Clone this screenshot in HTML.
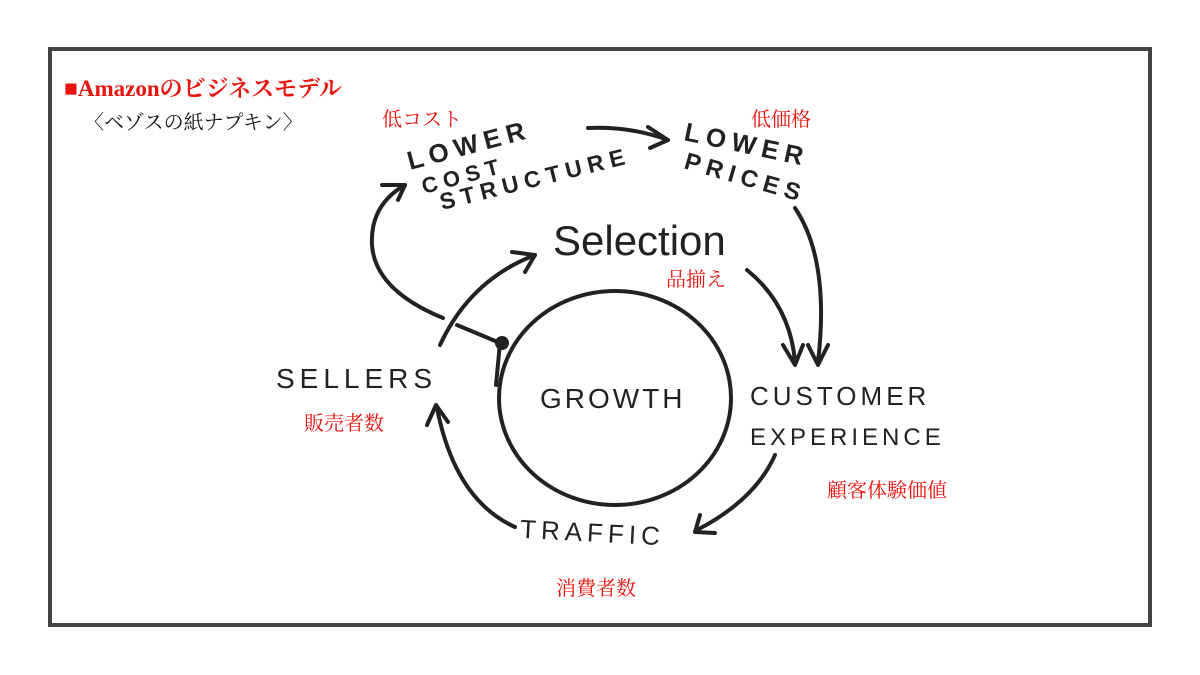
<!DOCTYPE html>
<html><head><meta charset="utf-8"><style>
html,body{margin:0;padding:0;background:#fff;width:1200px;height:675px;overflow:hidden}
.frame{position:absolute;left:48px;top:47px;width:1096px;height:572px;border:4px solid #444;background:#fff}
.r{position:absolute;color:#e8140f;font-family:"Liberation Serif","Noto Serif CJK SC",serif;font-size:20px;white-space:nowrap}
</style></head><body>
<div class="frame"></div>
<div class="r" style="left:64px;top:70px;font-size:23px;font-weight:bold">■Amazonのビジネスモデル</div>
<div class="r" style="left:84px;top:106px;color:#111;font-size:20px">〈ベゾスの紙ナプキン〉</div>
<div class="r" style="left:382px;top:103px">低コスト</div>
<div class="r" style="left:751px;top:103px">低価格</div>
<div class="r" style="left:666px;top:263px">品揃え</div>
<div class="r" style="left:304px;top:407px">販売者数</div>
<div class="r" style="left:827px;top:474px">顧客体験価値</div>
<div class="r" style="left:556px;top:572px">消費者数</div>
<svg width="1200" height="675" style="position:absolute;left:0;top:0" font-family="Liberation Sans, sans-serif" fill="#222">
<g stroke="#222" stroke-width="4" fill="none" stroke-linecap="round" stroke-linejoin="round">
<ellipse cx="615" cy="398" rx="116" ry="107"/>
<path d="M588 128 Q630 126 668 140"/><path d="M648 127 L668 140 L650 148"/>
<path d="M795 208 Q830 260 818 362"/><path d="M808 345 L818 365 L828 345"/>
<path d="M747 270 Q790 305 795 362"/><path d="M783 345 L795 365 L803 345"/>
<path d="M775 455 Q755 500 697 530"/><path d="M700 515 L695 532 L715 533"/>
<path d="M515 527 Q455 500 437 408"/><path d="M427 425 L436 405 L448 422"/>
<path d="M440 345 Q470 280 535 255"/><path d="M512 252 L535 255 L525 272"/>
<path d="M443 318 Q375 290 372 245 Q370 205 405 185"/><path d="M382 185 L405 185 L398 200"/>
<path d="M457 325 L500 343 L496 385"/>
</g>
<circle cx="502" cy="343" r="7"/>
<g font-size="26" font-weight="bold" letter-spacing="6">
<text transform="translate(410,170) rotate(-15)">LOWER</text>
<text transform="translate(424,194) rotate(-15)" font-size="22">COST</text>
<text transform="translate(442,210) rotate(-14)" font-size="23">STRUCTURE</text>
<text transform="translate(683,140) rotate(12)">LOWER</text>
<text transform="translate(683,168) rotate(16)" font-size="24">PRICES</text>
<text x="276" y="388" font-size="28" font-weight="normal" letter-spacing="5">SELLERS</text>
<text x="540" y="408" font-size="28" font-weight="normal" letter-spacing="3">GROWTH</text>
<text x="750" y="405" font-size="26" font-weight="normal" letter-spacing="4">CUSTOMER</text>
<text x="750" y="445" font-size="24" font-weight="normal" letter-spacing="4">EXPERIENCE</text>
<text x="520" y="542" font-size="26" font-weight="normal" letter-spacing="5" transform="rotate(3,600,535)">TRAFFIC</text>
</g>
<text x="553" y="255" font-size="42" letter-spacing="0">Selection</text>
</svg>
</body></html>
